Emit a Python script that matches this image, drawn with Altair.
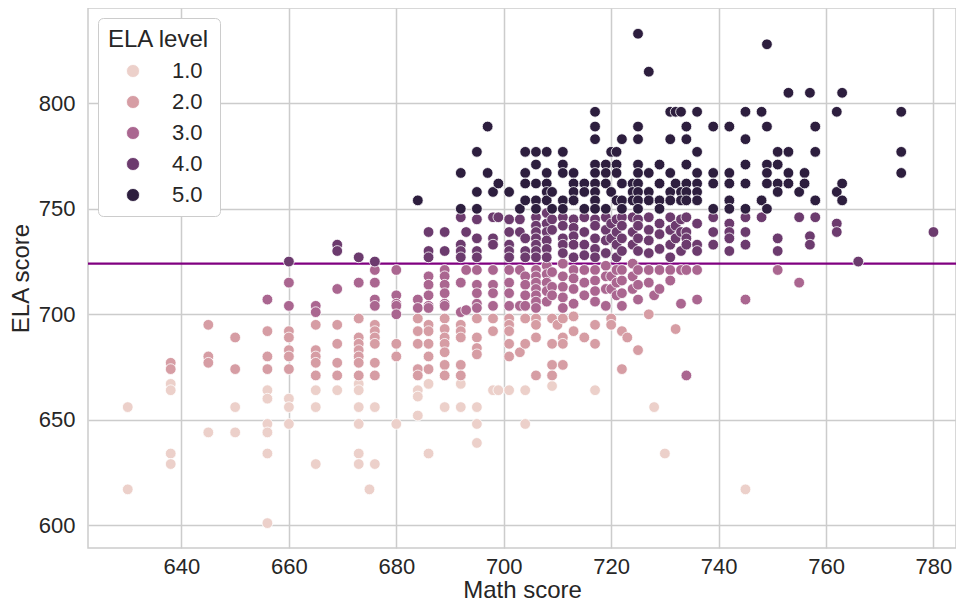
import altair as alt
import pandas as pd

# (math score, ELA score) pairs, grouped by ELA level
level1 = [(630,656),(630,617),(638,667),(638,664),(638,634),(638,629),(645,644),(650,656),(650,644),
          (656,664),(656,660),(656,648),(656,644),(656,634),(656,601),(660,660),(660,656),(660,648),
          (665,664),(665,656),(665,629),(669,664),(673,667),(673,664),(673,656),(673,648),(673,634),
          (673,629),(675,617),(676,656),(676,629),(680,648),(684,664),(684,661),(684,652),(686,667),
          (686,634),(689,656),(692,667),(692,656),(695,656),(695,648),(695,639),(698,664),(699,664),
          (701,664),(704,664),(704,648),(709,666),(717,664),(728,656),(730,634),(745,617)]

level2 = [(638,677),(638,674),(645,695),(645,680),(645,677),(650,689),(650,674),(656,692),(656,680),
          (656,674),(660,692),(660,689),(660,683),(660,680),(660,674),(665,695),(665,683),(665,680),
          (665,677),(665,671),(669,695),(669,686),(669,677),(669,671),(673,698),(673,689),(673,686),
          (673,683),(673,680),(673,677),(673,671),(676,695),(676,692),(676,689),(676,686),(676,677),
          (676,671),(680,686),(680,680),(684,698),(684,692),(684,686),(684,674),(684,671),(686,695),
          (686,692),(686,686),(686,680),(686,674),(689,698),(689,693),(689,689),(689,686),(689,682),
          (689,676),(689,671),(692,695),(692,692),(692,689),(692,676),(692,671),(695,698),(695,689),
          (695,684),(695,681),(698,698),(698,692),(701,698),(701,695),(701,692),(701,686),(701,680),
          (703,682),(704,698),(704,686),(706,698),(706,695),(706,689),(706,671),(709,698),(709,686),
          (709,676),(709,671),(710,695),(711,698),(711,689),(711,686),(711,676),(713,699),(713,692),
          (715,689),(717,695),(717,686),(720,698),(720,695),(722,692),(722,674),(723,689),(725,683),
          (727,700),(732,693)]

level3 = [(656,707),(660,715),(660,704),(665,704),(665,701),(669,712),(673,715),(676,721),(676,715),
          (676,707),(676,704),(680,721),(680,709),(680,705),(680,704),(680,700),(684,707),(684,703),
          (686,718),(686,714),(686,709),(686,704),(686,703),(689,721),(689,718),(689,714),(689,710),
          (689,705),(689,704),(692,715),(692,701),(693,721),(693,702),(695,721),(695,714),(695,710),
          (695,705),(695,703),(698,721),(698,714),(698,710),(698,704),(701,721),(701,715),(701,710),
          (701,704),(703,721),(703,704),(704,718),(704,714),(704,709),(704,704),(706,721),(706,718),
          (706,715),(706,712),(706,709),(706,706),(706,703),(708,723),(708,719),(708,715),(708,711),
          (708,706),(709,720),(709,713),(709,709),(711,724),(711,718),(711,713),(711,708),(711,703),
          (713,721),(713,717),(713,712),(713,705),(715,721),(715,715),(715,709),(717,721),(717,716),
          (717,711),(717,706),(719,723),(719,718),(719,712),(719,704),(720,718),(720,712),(721,721),
          (721,715),(721,709),(722,721),(722,716),(722,710),(722,704),(724,724),(724,718),(724,712),
          (725,721),(725,714),(725,707),(727,721),(727,715),(728,709),(729,721),(729,712),(731,721),
          (731,716),(733,721),(733,705),(734,721),(734,671),(736,721),(736,707),(745,707),(751,721),
          (755,715)]

level4 = [(660,725),(669,733),(669,730),(673,727),(676,725),(686,739),(686,730),(686,727),(689,739),
          (689,730),(692,746),(692,733),(692,730),(692,727),(693,739),(695,745),(695,736),(695,730),
          (695,727),(698,746),(698,736),(698,733),(699,746),(701,745),(701,739),(701,733),(701,730),
          (701,727),(703,745),(703,739),(704,736),(704,730),(704,727),(706,746),(706,742),(706,739),
          (706,736),(706,733),(706,730),(706,727),(708,748),(708,743),(708,739),(708,735),(708,731),
          (708,727),(709,745),(709,740),(711,746),(711,742),(711,736),(711,733),(711,729),(713,745),
          (713,741),(713,737),(713,733),(713,727),(715,746),(715,739),(715,733),(715,728),(717,745),
          (717,742),(717,736),(717,731),(717,727),(719,746),(719,740),(719,735),(719,729),(720,743),
          (720,736),(721,745),(721,739),(721,733),(721,727),(722,746),(722,742),(722,736),(722,730),
          (724,746),(724,739),(724,733),(725,745),(725,742),(725,736),(725,730),(727,746),(727,740),
          (727,735),(727,729),(729,743),(729,738),(729,731),(731,746),(731,740),(731,733),(731,727),
          (732,742),(732,736),(733,745),(733,739),(733,730),(734,746),(734,739),(734,736),(734,733),
          (736,743),(736,733),(736,730),(739,746),(739,739),(739,733),(742,743),(742,739),(742,736),
          (742,730),(745,746),(745,739),(745,733),(748,746),(751,736),(751,730),(755,746),(757,737),
          (757,733),(758,746),(762,743),(762,739),(766,725),(780,739)]

level5 = [(684,754),(692,767),(692,750),(695,777),(695,758),(695,750),(697,789),(697,767),(698,758),
          (699,762),(701,758),(703,750),(704,777),(704,767),(704,762),(704,754),(706,777),(706,771),
          (706,762),(706,754),(706,750),(708,777),(708,767),(708,762),(708,758),(708,754),(709,758),
          (709,750),(711,777),(711,771),(711,767),(711,754),(711,750),(713,767),(713,762),(713,758),
          (713,754),(715,762),(715,758),(715,750),(717,796),(717,789),(717,783),(717,771),(717,767),
          (717,762),(717,758),(717,754),(717,750),(719,771),(719,767),(719,762),(719,750),(720,777),
          (720,758),(721,777),(721,771),(721,767),(721,754),(722,783),(722,762),(722,754),(722,750),
          (724,762),(724,758),(724,754),(725,833),(725,789),(725,783),(725,771),(725,767),(725,762),
          (725,758),(725,754),(725,750),(727,815),(727,767),(727,758),(727,754),(729,771),(729,762),
          (729,754),(729,750),(731,796),(731,783),(731,767),(731,758),(731,754),(732,796),(732,762),
          (733,796),(733,758),(733,754),(734,789),(734,783),(734,771),(734,762),(734,758),(734,754),
          (736,796),(736,777),(736,767),(736,762),(736,758),(736,754),(739,789),(739,767),(739,762),
          (739,750),(742,789),(742,767),(742,762),(742,754),(742,750),(745,796),(745,783),(745,771),
          (745,762),(745,750),(748,796),(748,754),(749,828),(749,789),(749,771),(749,767),(749,762),
          (749,750),(751,777),(751,771),(751,762),(751,758),(753,805),(753,777),(753,767),(753,762),
          (755,758),(756,767),(756,762),(757,805),(758,789),(758,777),(758,754),(762,796),(762,758),
          (763,805),(763,762),(763,754),(774,796),(774,777),(774,767)]

ela_mean = [724]
level_values = [1, 2, 3, 4, 5]
level_colors = ["#ecd0ca", "#d69da4", "#aa6690", "#6c3b6e", "#2d1e3e"]
x_ticks = [640, 660, 680, 700, 720, 740, 760, 780]
y_ticks = [600, 650, 700, 750, 800]

rows = []
for lvl, pts in zip(level_values, [level1, level2, level3, level4, level5]):
    for m, e in pts:
        rows.append({"math": m, "ela": e, "level": lvl})
df = pd.DataFrame(rows)
mean_df = pd.DataFrame({"mean": ela_mean})

FONT = "Liberation Sans"

x_enc = alt.X("math:Q", scale=alt.Scale(domain=[622.6, 785.5], range=[0, 875], nice=False, zero=False),
              axis=alt.Axis(values=x_ticks, title="Math score", labelPadding=8,
                            titleX=434, titleY=49, titleBaseline="alphabetic"))
y_enc = alt.Y("ela:Q", scale=alt.Scale(domain=[589.2, 845.2], nice=False, zero=False),
              axis=alt.Axis(values=y_ticks, title="ELA score", labelPadding=13,
                            titleX=-67, titleY=270, titleBaseline="middle"))

rule = alt.Chart(mean_df).mark_rule(color="#800080", strokeWidth=2.2).encode(
    y=alt.Y("mean:Q"),
    x=alt.value(0), x2=alt.value(875))

points = alt.Chart(df).mark_circle(size=115, opacity=1, stroke="white", strokeWidth=0.8).encode(
    x=x_enc,
    y=y_enc,
    color=alt.Color("level:O",
                    scale=alt.Scale(domain=level_values, range=level_colors),
                    legend=alt.Legend(title="ELA level", orient="none", legendX=10, legendY=10,
                                      labelExpr="format(datum.value, '.1f')")),
)

chart = alt.layer(rule, points).properties(
    width=868, height=540,
    autosize=alt.AutoSizeParams(type="none"),
    padding={"left": 80, "top": 0, "right": 0, "bottom": 54},
).configure_view(
    stroke="#cccccc", strokeWidth=1.5
).configure_axis(
    grid=True, gridColor="#cccccc", gridWidth=1.5, domain=False, ticks=False,
    labelFont=FONT, labelFontSize=22, labelColor="#262626",
    titleFont=FONT, titleFontSize=24, titleColor="#262626", titleFontWeight="normal",
).configure_legend(
    fillColor="white", strokeColor="#cccccc", cornerRadius=5, padding=10,
    titleFont=FONT, titleFontSize=24, titleFontWeight="normal", titleColor="#262626",
    titlePadding=8,
    labelFont=FONT, labelFontSize=22, labelColor="#262626", labelOffset=28,
    symbolType="circle", symbolSize=170, symbolOffset=14,
    symbolStrokeColor="white", symbolStrokeWidth=0.8,
    rowPadding=9,
)

chart.save("out.html", embed_options={"renderer": "svg", "actions": False})
